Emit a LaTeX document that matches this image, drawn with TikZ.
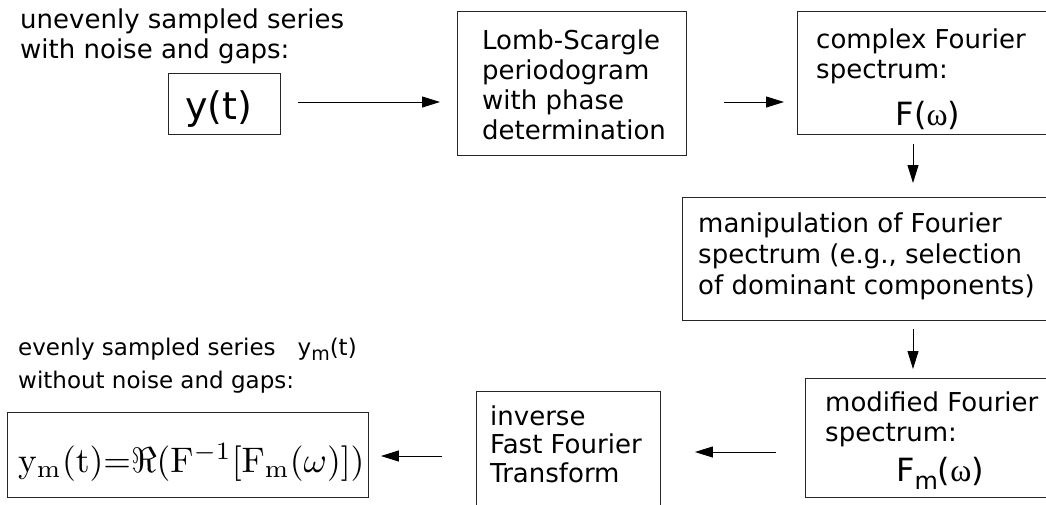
\documentclass[tikz,border=0pt]{standalone}
\usepackage{graphicx}
\usepackage[no-math]{fontspec}
\setmainfont{DejaVu Sans}
\newfontfamily\serifomega{Liberation Serif}
\usetikzlibrary{arrows.meta}
\begin{document}
\begin{tikzpicture}[x=1pt,y=-1pt,
  box/.style={draw=black!85, line width=0.9pt, rectangle, inner sep=0pt, anchor=north west},
  txt/.style={anchor=base west, inner sep=0pt, font=\fontsize{26}{30}\selectfont},
  smalltxt/.style={anchor=base west, inner sep=0pt, font=\fontsize{23}{27}\selectfont},
  bigtxt/.style={anchor=base, inner sep=0pt},
  arr/.style={-{Triangle[length=18pt,width=11pt]}, line width=1pt},
]
\useasboundingbox (0,0) rectangle (1046,504);
\clip (0,0) rectangle (1046,504);
\fill[white] (0,0) rectangle (1046,504);

% boxes
\node[box, minimum width=112, minimum height=61] (ybox) at (168,73) {};
\node[box, minimum width=229, minimum height=144] (lomb) at (457,11) {};
\node[box, minimum width=300, minimum height=123] (cplx) at (797,11) {};
\node[box, minimum width=400, minimum height=123] (manip) at (682,197) {};
\node[box, minimum width=300, minimum height=119] (modf) at (805,378) {};
\node[box, minimum width=184, minimum height=160] (inv) at (476,391) {};
\node[box, minimum width=361, minimum height=85] (form) at (7,412) {};

% texts
\node[txt] (t1) at (20,28) {unevenly sampled series};
\node[txt] (t2) at (20,58) {with noise and gaps:};
\node[bigtxt, font=\fontsize{38}{38}\selectfont] (yt) at (219,119) {y(t)};

\node[txt] (l1) at (482,49) {Lomb-Scargle};
\node[txt] (l2) at (482,79) {periodogram};
\node[txt] (l3) at (482,109) {with phase};
\node[txt] (l4) at (482,139) {determination};

\node[txt] (c1) at (816,48) {complex Fourier};
\node[txt] (c2) at (816,78) {spectrum:};
\node[bigtxt, font=\fontsize{32}{32}\selectfont] (c3) at (928,125) {F({\serifomega ω})};

\node[txt] (m1) at (698,232) {manipulation of Fourier};
\node[txt] (m2) at (698,263) {spectrum (e.g., selection};
\node[txt] (m3) at (698,294) {of dominant components)};

\node[txt] (f1) at (825,411) {modified Fourier};
\node[txt] (f2) at (825,441) {spectrum:};
\node[bigtxt, font=\fontsize{32}{32}\selectfont] (f3) at (940,481) {F\raisebox{-0.28em}{\fontsize{24}{24}\selectfont m}({\serifomega ω})};

\node[txt] (i1) at (490,425) {inverse};
\node[txt] (i2) at (490,453) {Fast Fourier};
\node[txt] (i3) at (490,482) {Transform};

\node[smalltxt] (e1) at (18,355) {evenly sampled series\hspace{22pt}y\raisebox{-0.25em}{\fontsize{19}{19}\selectfont m}(t)};
\node[smalltxt] (e2) at (18,388) {without noise and gaps:};
\node[anchor=base west, inner sep=0pt] (fm) at (18,472)
  {\scalebox{3.55}{$\mathrm{y_m(t)}{=}\Re(\mathrm{F}^{-1}[\mathrm{F_m}(\omega)])$}};

% connectors
\coordinate (r1) at (0,102);
\coordinate (r3) at (0,452);
\coordinate (r4) at (0,456);
\coordinate (cx) at (913,0);
\draw[arr, shorten <=17pt, shorten >=17pt] (ybox.east |- r1) -- (lomb.west |- r1);
\draw[arr, shorten <=37pt, shorten >=13pt] (lomb.east |- r1) -- (cplx.west |- r1);
\draw[arr, shorten <=9pt, shorten >=14pt] (cplx.south -| cx) -- (manip.north -| cx);
\draw[arr, shorten <=8pt, shorten >=9pt] (manip.south -| cx) -- (modf.north -| cx);
\draw[arr, shorten <=29pt, shorten >=34pt] (modf.west |- r3) -- (inv.east |- r3);
\draw[arr, shorten <=34pt, shorten >=12pt] (inv.west |- r4) -- (form.east |- r4);
\end{tikzpicture}
\end{document}
